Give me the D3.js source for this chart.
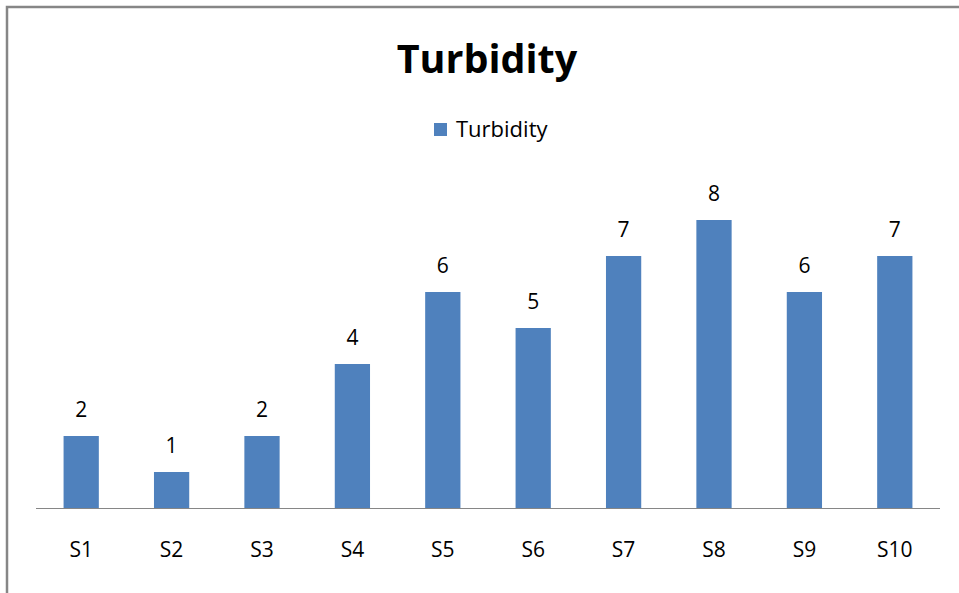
<!DOCTYPE html>
<html>
<head>
<meta charset="utf-8">
<script src="https://cdn.jsdelivr.net/npm/d3@7"></script>
<style>
  html, body { margin: 0; padding: 0; background: #fff; }
  svg { display: block; }
  text { font-family: "Open Sans", "Noto Sans", sans-serif; fill: #000; }
</style>
</head>
<body>
<svg id="chart" width="959" height="593"></svg>
<script>
// Turbidity readings per sampling site
const categories = ["S1", "S2", "S3", "S4", "S5", "S6", "S7", "S8", "S9", "S10"];
const turbidity = [2, 1, 2, 4, 6, 5, 7, 8, 6, 7];
const seriesName = "Turbidity";
const chartTitle = "Turbidity";

const svg = d3.select("#chart");
const W = 959, H = 593;

// Outer frame: only the top and left edges are visible
svg.append("path")
  .attr("d", `M7,${H} L7,7 L${W},7`)
  .attr("fill", "none")
  .attr("stroke", "#868686")
  .attr("stroke-width", 2.5);

const plot = { left: 36, right: 940, top: 148, bottom: 508 };

const x = d3.scaleBand()
  .domain(categories)
  .range([plot.left, plot.right])
  .paddingInner(0.61)
  .paddingOuter(0.305);

const y = d3.scaleLinear()
  .domain([0, 10])
  .range([plot.bottom, plot.top]);

const data = categories.map((c, i) => ({ cat: c, value: turbidity[i] }));

// Bars
svg.append("g").selectAll("rect")
  .data(data)
  .join("rect")
  .attr("x", d => x(d.cat))
  .attr("y", d => y(d.value))
  .attr("width", x.bandwidth())
  .attr("height", d => y(0) - y(d.value))
  .attr("fill", "#4F81BD");

// Value labels
svg.append("g").selectAll("text")
  .data(data)
  .join("text")
  .attr("x", d => x(d.cat) + x.bandwidth() / 2)
  .attr("y", d => y(d.value) - 19)
  .attr("text-anchor", "middle")
  .attr("font-size", 21)
  .text(d => d.value);

// Category axis
const xAxis = svg.append("g")
  .attr("transform", `translate(0,${plot.bottom})`)
  .call(d3.axisBottom(x).tickSize(0).tickPadding(0));
xAxis.select(".domain")
  .attr("d", `M${plot.left},0.5H${plot.right}`)
  .attr("stroke", "#868686")
  .attr("stroke-width", 1.2);
xAxis.selectAll(".tick text")
  .attr("dy", null)
  .attr("y", 49)
  .attr("font-size", 21)
  .attr("font-family", "\"Open Sans\", \"Noto Sans\", sans-serif")
  .attr("fill", "#000");

// Title
svg.append("text")
  .attr("x", 487)
  .attr("y", 73)
  .attr("text-anchor", "middle")
  .attr("font-size", 39.5)
  .attr("font-weight", "bold")
  .text(chartTitle);

// Legend
const legend = svg.append("g");
legend.append("rect")
  .attr("x", 434).attr("y", 123)
  .attr("width", 13).attr("height", 13)
  .attr("fill", "#4F81BD");
legend.append("text")
  .attr("x", 456).attr("y", 137)
  .attr("font-size", 22)
  .text(seriesName);
</script>
</body>
</html>
